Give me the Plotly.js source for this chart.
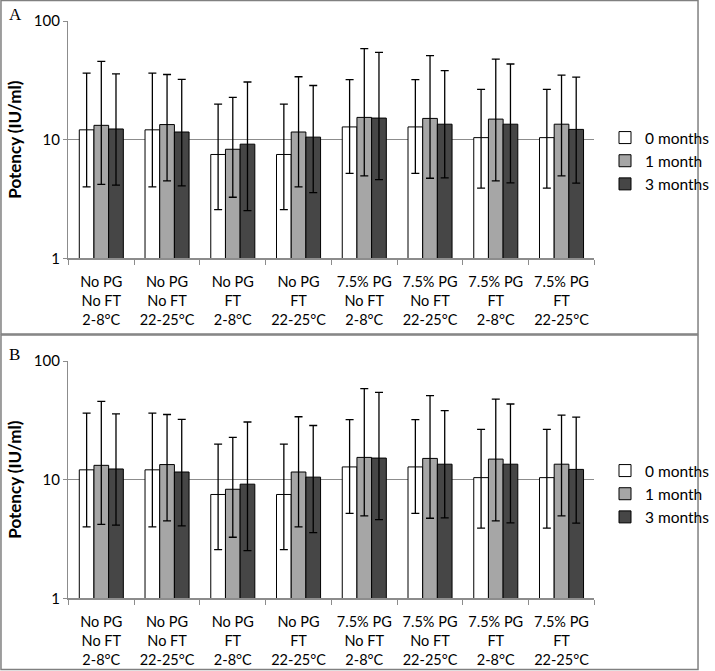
<!DOCTYPE html>
<html>
<head>
<meta charset="utf-8">
<script src="https://cdn.plot.ly/plotly-3.0.1.min.js"></script>
<style>html,body{margin:0;padding:0;background:#fff;}#chart{width:715px;height:671px;}</style>
</head>
<body>
<div id="chart"></div>
<script>
// Categories (x tick labels)
const categories = [
  "No PG<br>No FT<br>2-8°C",
  "No PG<br>No FT<br>22-25°C",
  "No PG<br>FT<br>2-8°C",
  "No PG<br>FT<br>22-25°C",
  "7.5% PG<br>No FT<br>2-8°C",
  "7.5% PG<br>No FT<br>22-25°C",
  "7.5% PG<br>FT<br>2-8°C",
  "7.5% PG<br>FT<br>22-25°C"
];
const seriesNames = ["0 months", "1 month", "3 months"];

// Panel A: potency (IU/ml), with error bar upper and lower limits
const a0 = [12.1, 12.1, 7.5, 7.5, 12.8, 12.8, 10.4, 10.4];
const a0Hi = [36.4, 36.4, 19.9, 19.9, 32.0, 32.0, 26.5, 26.5];
const a0Lo = [4.0, 4.0, 2.57, 2.57, 5.2, 5.2, 3.9, 3.9];
const a1 = [13.2, 13.4, 8.3, 11.6, 15.4, 15.1, 14.9, 13.5];
const a1Hi = [45.6, 35.4, 22.7, 33.9, 58.4, 51.0, 47.8, 35.0];
const a1Lo = [4.2, 4.5, 3.27, 4.0, 4.95, 4.73, 4.49, 4.95];
const a3 = [12.3, 11.6, 9.16, 10.5, 15.2, 13.5, 13.5, 12.2];
const a3Hi = [35.9, 32.2, 30.6, 28.6, 54.3, 38.1, 43.4, 33.7];
const a3Lo = [4.13, 4.08, 2.52, 3.58, 4.61, 4.76, 4.32, 4.30];

// Panel B: same values
const b0 = a0.slice(), b0Hi = a0Hi.slice(), b0Lo = a0Lo.slice();
const b1 = a1.slice(), b1Hi = a1Hi.slice(), b1Lo = a1Lo.slice();
const b3 = a3.slice(), b3Hi = a3Hi.slice(), b3Lo = a3Lo.slice();

const colors = ["#ffffff", "#a6a6a6", "#464646"];
const FONT = "Lato, 'Open Sans', sans-serif";

function mk(vals, hi, lo, i, xa, ya, leg) {
  return {
    type: "bar", x: categories, y: vals, name: seriesNames[i],
    xaxis: xa, yaxis: ya, legend: leg,
    marker: {color: colors[i], line: {color: "#000", width: 1}},
    error_y: {type: "data", symmetric: false,
      array: vals.map((v, k) => hi[k] - v),
      arrayminus: vals.map((v, k) => v - lo[k]),
      color: "#000", thickness: 1.3, width: 4}
  };
}

const data = [
  mk(a0, a0Hi, a0Lo, 0, "x", "y", "legend"),
  mk(a1, a1Hi, a1Lo, 1, "x", "y", "legend"),
  mk(a3, a3Hi, a3Lo, 2, "x", "y", "legend"),
  mk(b0, b0Hi, b0Lo, 0, "x2", "y2", "legend2"),
  mk(b1, b1Hi, b1Lo, 1, "x2", "y2", "legend2"),
  mk(b3, b3Hi, b3Lo, 2, "x2", "y2", "legend2")
];

const W = 715, H = 671;
const xdom = [70 / W, 608 / W];
const yA = [1 - 258.3 / H, 1 - 21 / H];
const yB = [1 - 598.3 / H, 1 - 361 / H];

function xax(anchor) {
  return {domain: xdom, anchor: anchor, type: "category",
    showline: true, linecolor: "#8c8c8c", linewidth: 1.5,
    ticks: "outside", tickson: "boundaries", ticklen: 5, tickcolor: "#8c8c8c", tickwidth: 1,
    ticklabelstandoff: 10,
    showgrid: false, tickfont: {family: FONT, size: 14.5, color: "#000"}, fixedrange: true};
}
function yax(anchor, dom) {
  return {domain: dom, anchor: anchor, type: "log", range: [0, 2], dtick: 1,
    showline: true, linecolor: "#8c8c8c", linewidth: 1.5,
    ticks: "outside", ticklen: 4, tickcolor: "#8c8c8c",
    showgrid: true, gridcolor: "#8c8c8c", gridwidth: 1.5, zeroline: false,
    tickfont: {family: FONT, size: 15, color: "#000"},
    title: {text: "Potency (IU/ml)", font: {family: FONT, size: 17, color: "#000", weight: "bold"}, standoff: 8},
    automargin: false};
}
function leg(ycenter) {
  return {x: 619 / W, xanchor: "left", y: 1 - ycenter / H, yanchor: "middle",
    font: {family: FONT, size: 15.5, color: "#000"}, bgcolor: "rgba(0,0,0,0)",
    itemwidth: 30, tracegroupgap: 0};
}

const layout = {
  width: W, height: H,
  margin: {l: 0, r: 0, t: 0, b: 0},
  paper_bgcolor: "#fff", plot_bgcolor: "#fff",
  barmode: "group", bargap: 0.33, bargroupgap: 0,
  xaxis: xax("y"), yaxis: yax("x", yA),
  xaxis2: xax("y2"), yaxis2: yax("x2", yB),
  showlegend: true,
  legend: leg(161), legend2: leg(494),
  shapes: [
    {type: "rect", xref: "paper", yref: "paper", x0: 1 / W, x1: 714 / W, y0: 1 - 334 / H, y1: 1 - 0.5 / H,
      line: {color: "#808080", width: 1.5}},
    {type: "rect", xref: "paper", yref: "paper", x0: 1 / W, x1: 714 / W, y0: 1 - 669.5 / H, y1: 1 - 335 / H,
      line: {color: "#808080", width: 1.5}}
  ],
  annotations: [
    {text: "A", xref: "paper", yref: "paper", x: 7 / W, y: 1 - 14 / H, xanchor: "left", yanchor: "middle",
      showarrow: false, font: {family: "Liberation Serif, serif", size: 17, color: "#000"}},
    {text: "B", xref: "paper", yref: "paper", x: 7 / W, y: 1 - 354 / H, xanchor: "left", yanchor: "middle",
      showarrow: false, font: {family: "Liberation Serif, serif", size: 17, color: "#000"}}
  ]
};

Plotly.newPlot("chart", data, layout, {displayModeBar: false, staticPlot: true});
</script>
</body>
</html>
